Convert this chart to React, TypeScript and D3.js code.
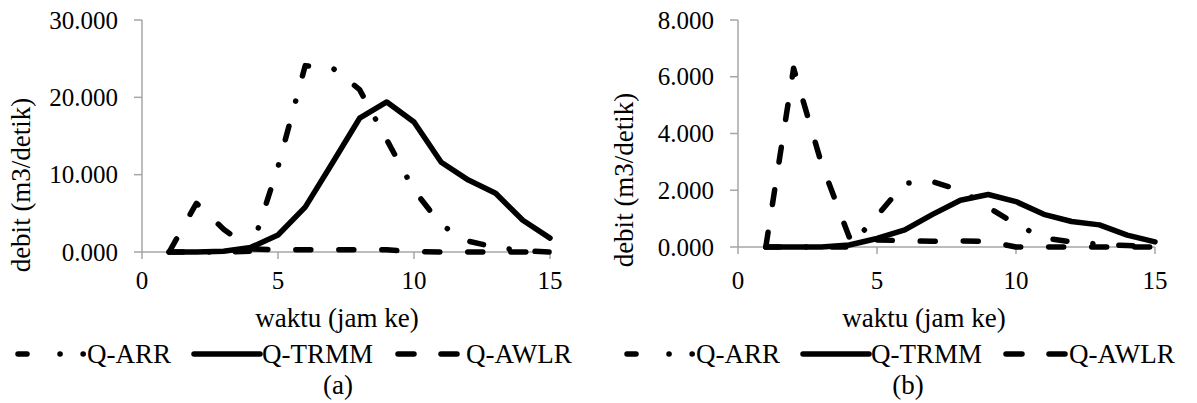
import React from 'react';
import * as d3 from 'd3';

// ---------- data ----------
const HOURS = [1, 2, 3, 4, 5, 6, 7, 8, 9, 10, 11, 12, 13, 14, 15];
const ARR_A = [0, 0, 0, 0.1, 11.0, 24.1, 23.8, 21.0, 14.5, 8.0, 3.5, 1.4, 0.6, 0.15, 0];
const TRMM_A = [0, 0, 0.1, 0.6, 2.2, 5.8, 11.5, 17.3, 19.4, 16.8, 11.6, 9.3, 7.6, 4.1, 1.8];
const AWLR_A = [0, 6.3, 2.95, 0.4, 0.3, 0.3, 0.28, 0.28, 0.28, 0.05, 0, 0, 0, 0, 0];
const ARR_B = [0, 0, 0, 0, 1.1, 2.25, 2.3, 2.0, 1.4, 0.8, 0.32, 0.18, 0.1, 0.05, 0];
const TRMM_B = [0, 0, 0, 0.07, 0.3, 0.6, 1.15, 1.65, 1.85, 1.6, 1.15, 0.9, 0.78, 0.42, 0.18];
const AWLR_B = [0, 6.3, 2.95, 0.35, 0.25, 0.22, 0.2, 0.21, 0.2, 0, 0, 0, 0, 0, 0];
const X_TICKS = [0, 5, 10, 15];
const Y_TICKS_A = [0, 10, 20, 30];
const Y_TICKS_B = [0, 2, 4, 6, 8];
const SERIES = ['Q-ARR', 'Q-TRMM', 'Q-AWLR'];
const X_TITLE = 'waktu (jam ke)';
const Y_TITLE = 'debit (m3/detik)';
const PANEL_LABELS = ['(a)', '(b)'];

// ---------- styles ----------
const FONT = '"Liberation Serif", "Times New Roman", serif';
const FS_TICK = 25;
const FS = 27;
const LW = 5.5;
const AXIS = '#a6a6a6';
const DASHES: Record<string, string | undefined> = {
  'Q-ARR': '14,26,0.1,26',
  'Q-TRMM': undefined,
  'Q-AWLR': '15,28',
};
const LEGEND_DASHES: Record<string, string | undefined> = {
  'Q-ARR': '9,33,0.1,23,0.1,300',
  'Q-TRMM': undefined,
  'Q-AWLR': '16,27,16,300',
};

type PanelCfg = {
  x0: number; x1: number; yTop: number; yBot: number;
  yMax: number; yTicks: number[];
  arr: number[]; trmm: number[]; awlr: number[];
  yTitleX: number; yTitleY: number;
  xTitleX: number; label: string; labelX: number;
  legend: { lx1: number; lx2: number; tx: number }[];
};

const fmt = d3.format('.3f');

function Panel({ c }: { c: PanelCfg }) {
  const x = d3.scaleLinear().domain([0, 15]).range([c.x0, c.x1]);
  const y = d3.scaleLinear().domain([0, c.yMax]).range([c.yBot, c.yTop]);
  const line = d3
    .line<number>()
    .x((_, i) => x(HOURS[i]))
    .y((v) => y(v));
  const seriesData = [c.arr, c.trmm, c.awlr];
  const legendY = 354;
  return (
    <g>
      {/* axes */}
      <line x1={c.x0} x2={c.x0} y1={c.yTop} y2={c.yBot} stroke={AXIS} strokeWidth={1.5} />
      <line x1={c.x0} x2={c.x1} y1={c.yBot} y2={c.yBot} stroke={AXIS} strokeWidth={1.5} />
      {c.yTicks.map((t) => (
        <g key={'y' + t}>
          <line x1={c.x0 - 8} x2={c.x0} y1={y(t)} y2={y(t)} stroke={AXIS} strokeWidth={1.5} />
          <text x={c.x0 - 24} y={y(t) + 8.5} textAnchor="end" fontSize={FS_TICK} fontFamily={FONT}>
            {fmt(t)}
          </text>
        </g>
      ))}
      {X_TICKS.map((t) => (
        <g key={'x' + t}>
          <line x1={x(t)} x2={x(t)} y1={c.yBot} y2={c.yBot + 7} stroke={AXIS} strokeWidth={1.5} />
          <text x={x(t)} y={289} textAnchor="middle" fontSize={FS_TICK} fontFamily={FONT}>
            {t}
          </text>
        </g>
      ))}
      <text x={c.xTitleX} y={327} textAnchor="middle" fontSize={FS} fontFamily={FONT}>
        {X_TITLE}
      </text>
      <text
        transform={`translate(${c.yTitleX},${c.yTitleY}) rotate(-90)`}
        textAnchor="middle"
        fontSize={FS}
        fontFamily={FONT}
      >
        {Y_TITLE}
      </text>
      {/* series: AWLR, TRMM, ARR order */}
      {[2, 1, 0].map((si) => (
        <path
          key={SERIES[si]}
          d={line(seriesData[si]) || ''}
          fill="none"
          stroke="#000"
          strokeWidth={LW}
          strokeLinecap="round"
          strokeLinejoin="round"
          strokeDasharray={DASHES[SERIES[si]]}
        />
      ))}
      {/* legend */}
      {SERIES.map((s, i) => (
        <g key={'lg' + s}>
          <line
            x1={c.legend[i].lx1}
            x2={c.legend[i].lx2}
            y1={legendY}
            y2={legendY}
            stroke="#000"
            strokeWidth={LW}
            strokeLinecap="round"
            strokeDasharray={LEGEND_DASHES[s]}
          />
          <text x={c.legend[i].tx} y={legendY + 9} fontSize={FS} fontFamily={FONT}>
            {s}
          </text>
        </g>
      ))}
      <text x={c.labelX} y={394} textAnchor="middle" fontSize={FS} fontFamily={FONT}>
        {c.label}
      </text>
    </g>
  );
}

const PANELS: PanelCfg[] = [
  {
    x0: 142, x1: 550, yTop: 20, yBot: 252, yMax: 30, yTicks: Y_TICKS_A,
    arr: ARR_A, trmm: TRMM_A, awlr: AWLR_A,
    yTitleX: 30, yTitleY: 185, xTitleX: 337, label: PANEL_LABELS[0], labelX: 338,
    legend: [
      { lx1: 18, lx2: 84, tx: 87 },
      { lx1: 194, lx2: 260, tx: 262 },
      { lx1: 398, lx2: 457, tx: 466 },
    ],
  },
  {
    x0: 738, x1: 1155, yTop: 20, yBot: 247, yMax: 8, yTicks: Y_TICKS_B,
    arr: ARR_B, trmm: TRMM_B, awlr: AWLR_B,
    yTitleX: 633, yTitleY: 180, xTitleX: 924, label: PANEL_LABELS[1], labelX: 908,
    legend: [
      { lx1: 627, lx2: 693, tx: 696 },
      { lx1: 803, lx2: 869, tx: 871 },
      { lx1: 1006, lx2: 1065, tx: 1069 },
    ],
  },
];

export default function App() {
  return (
    <svg
      width={1197}
      height={403}
      style={{ position: 'absolute', left: 0, top: 0, background: '#fff' }}
    >
      <rect width={1197} height={403} fill="#fff" />
      {PANELS.map((p, i) => (
        <Panel key={i} c={p} />
      ))}
    </svg>
  );
}
